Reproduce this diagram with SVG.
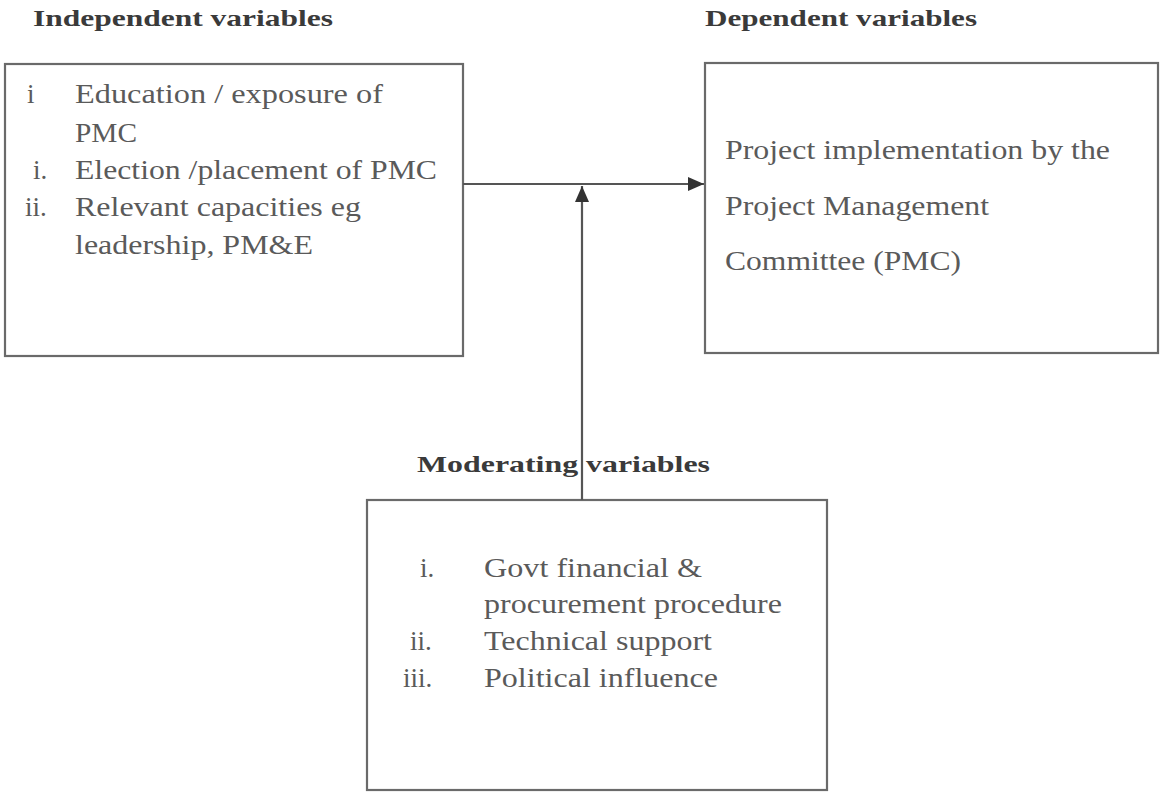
<svg xmlns="http://www.w3.org/2000/svg" width="1160" height="793" viewBox="0 0 1160 793">
<defs>
<style>
.box{fill:#fff;stroke:#6a6a6a;stroke-width:2.2}
.t{font-family:"Liberation Serif","Times New Roman",serif;font-size:27px;fill:#5a5a5a}
.h{font-family:"Liberation Serif","Times New Roman",serif;font-size:24px;font-weight:bold;fill:#3a3a3a}
.c{stroke:#555;stroke-width:2.2;fill:none}
</style>
<marker id="ah" viewBox="0 0 16 14" refX="16" refY="7" markerWidth="16" markerHeight="14" markerUnits="userSpaceOnUse" orient="auto">
<path d="M0,0 L16,7 L0,14 Z" fill="#333"/>
</marker>
</defs>
<rect width="1160" height="793" fill="#fff"/>
<text class="h" x="33" y="26" textLength="300" lengthAdjust="spacingAndGlyphs">Independent variables</text>
<text class="h" x="705" y="26" textLength="272" lengthAdjust="spacingAndGlyphs">Dependent variables</text>
<g id="independent">
<rect class="box" x="5" y="64" width="458" height="292"/>
<text class="t" x="27" y="103">i</text>
<text class="t" x="75" y="103" textLength="308" lengthAdjust="spacingAndGlyphs">Education / exposure of</text>
<text class="t" x="75" y="142" textLength="62" lengthAdjust="spacingAndGlyphs">PMC</text>
<text class="t" x="33" y="179">i.</text>
<text class="t" x="75" y="179" textLength="362" lengthAdjust="spacingAndGlyphs">Election /placement of PMC</text>
<text class="t" x="25" y="216">ii.</text>
<text class="t" x="75" y="216" textLength="286" lengthAdjust="spacingAndGlyphs">Relevant capacities eg</text>
<text class="t" x="75" y="254" textLength="238" lengthAdjust="spacingAndGlyphs">leadership, PM&amp;E</text>
</g>
<g id="dependent">
<rect class="box" x="705" y="63" width="453" height="290"/>
<text class="t" x="725" y="159" textLength="385" lengthAdjust="spacingAndGlyphs">Project implementation by the</text>
<text class="t" x="725" y="215" textLength="264" lengthAdjust="spacingAndGlyphs">Project Management</text>
<text class="t" x="725" y="270" textLength="236" lengthAdjust="spacingAndGlyphs">Committee (PMC)</text>
</g>
<g id="moderating">
<text class="h" x="417" y="472" textLength="293" lengthAdjust="spacingAndGlyphs">Moderating variables</text>
<rect class="box" x="367" y="500" width="460" height="290"/>
<text class="t" x="420" y="577">i.</text>
<text class="t" x="484" y="577" textLength="218" lengthAdjust="spacingAndGlyphs">Govt financial &amp;</text>
<text class="t" x="484" y="613" textLength="298" lengthAdjust="spacingAndGlyphs">procurement procedure</text>
<text class="t" x="410" y="650">ii.</text>
<text class="t" x="484" y="650" textLength="228" lengthAdjust="spacingAndGlyphs">Technical support</text>
<text class="t" x="403" y="687">iii.</text>
<text class="t" x="484" y="687" textLength="234" lengthAdjust="spacingAndGlyphs">Political influence</text>
</g>
<g id="connectors">
<line class="c" x1="463" y1="184" x2="704" y2="184" marker-end="url(#ah)"/>
<line class="c" x1="582" y1="500" x2="582" y2="186" marker-end="url(#ah)"/>
</g>
</svg>
